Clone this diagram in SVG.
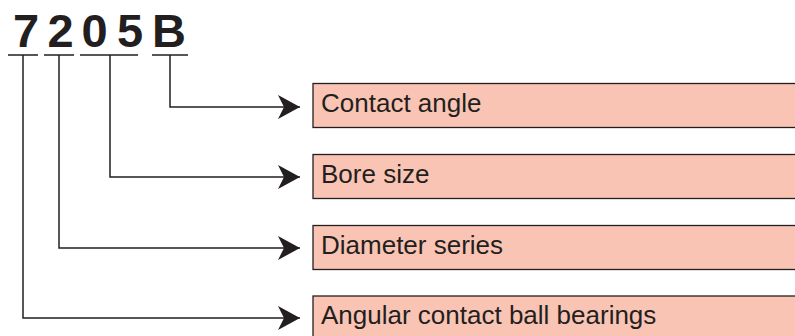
<svg xmlns="http://www.w3.org/2000/svg" width="795" height="336" viewBox="0 0 795 336">
<defs>
<style>
.code{font-family:"Liberation Sans",Arial,sans-serif;font-weight:bold;font-size:47px;fill:#231f20;text-anchor:middle}
.box rect{fill:#fac4b4;stroke:#231f20;stroke-width:1.3}
.box text{font-family:"Liberation Sans",Arial,sans-serif;font-size:26px;fill:#231f20}
.ln{fill:none;stroke:#231f20;stroke-width:1.5}
</style>
<marker id="ah" markerUnits="userSpaceOnUse" markerWidth="24" markerHeight="26" viewBox="0 0 24 26" refX="23" refY="13" orient="auto">
<path d="M23,13 L1,1 L7,13 L1,25 Z" fill="#231f20"/>
</marker>
</defs>
<g id="code">
<text class="code" x="26" y="47">7</text>
<text class="code" x="60.5" y="47">2</text>
<text class="code" x="94.5" y="47">0</text>
<text class="code" x="130" y="47">5</text>
<text class="code" x="169" y="47">B</text>
</g>
<g id="connectors">
<path class="ln" d="M8,55 H38 M44,55 H74 M80,55 H138 M152,55 H188"/>
<path class="ln" d="M170,55 V107 H300" marker-end="url(#ah)"/>
<path class="ln" d="M110,55 V177 H300" marker-end="url(#ah)"/>
<path class="ln" d="M59,55 V248 H300" marker-end="url(#ah)"/>
<path class="ln" d="M23,55 V318 H300" marker-end="url(#ah)"/>
</g>
<g id="n1" class="box"><rect x="313" y="83.5" width="490" height="44"/><text x="321" y="112">Contact angle</text></g>
<g id="n2" class="box"><rect x="313" y="154.5" width="490" height="44"/><text x="321" y="183">Bore size</text></g>
<g id="n3" class="box"><rect x="313" y="225.5" width="490" height="44"/><text x="321" y="254">Diameter series</text></g>
<g id="n4" class="box"><rect x="313" y="296" width="490" height="44"/><text x="321" y="324">Angular contact ball bearings</text></g>
</svg>
